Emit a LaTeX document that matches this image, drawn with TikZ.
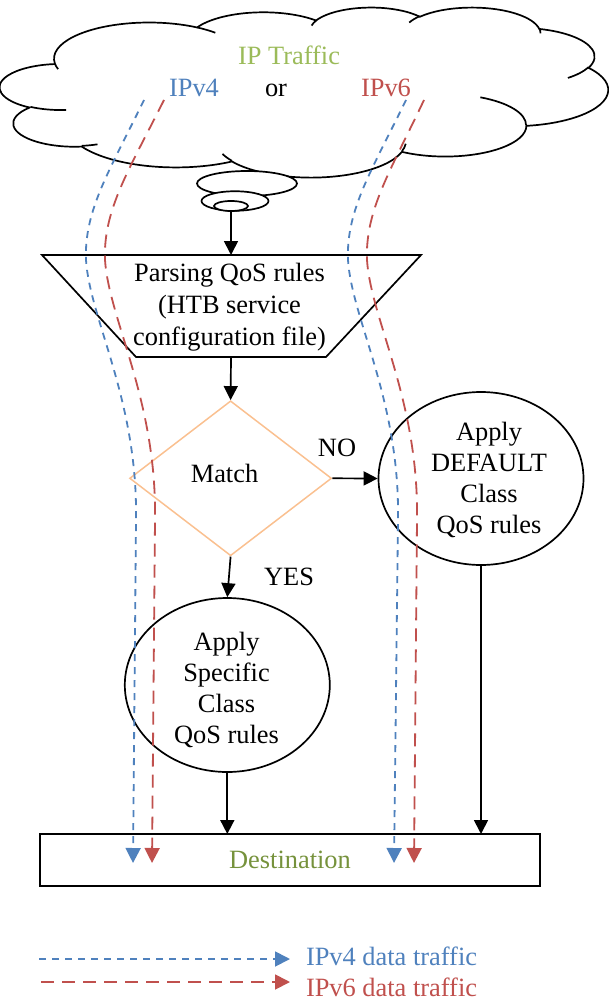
\documentclass[tikz,border=0pt]{standalone}
\usepackage{fontspec}
\setmainfont{Liberation Serif}
\usetikzlibrary{arrows.meta,shapes.geometric}
\definecolor{vfourblue}{HTML}{4F81BD}
\definecolor{vsixred}{HTML}{C0504D}
\definecolor{traffgreen}{HTML}{9BBB59}
\definecolor{destgreen}{HTML}{76923C}
\definecolor{decorange}{HTML}{FAC090}
\tikzset{
  % one lobe of the cloud outline: x radius, y radius, start and sweep angle (visual degrees)
  cloudarc/.style n args={4}{x radius=#1, y radius=#2,
    start angle={atan2(#1*sin(#3),#2*cos(#3))},
    delta angle={mod(atan2(#1*sin(#3+#4),#2*cos(#3+#4))-atan2(#1*sin(#3),#2*cos(#3))+720,360)}},
  cloudline/.style={line width=1.7pt, line join=round},
  txt/.style={font=\fontsize{26.4}{31}\selectfont, inner sep=0pt, outer sep=0pt},
  bubble/.style={ellipse, draw, fill=white, line width=1.7pt, inner sep=0pt},
  flow/.style={line width=1.7pt, -{Triangle[length=14pt,width=14pt]}},
  roundbox/.style={ellipse, draw, line width=1.7pt, inner sep=0pt, minimum width=205pt, minimum height=173pt},
  vfour/.style={vfourblue, line width=1.8pt, dash pattern=on 7pt off 6pt, -{Triangle[length=15pt,width=15pt]}},
  vsix/.style={vsixred, line width=1.8pt, dash pattern=on 13pt off 8pt, -{Triangle[length=15pt,width=15pt]}},
}
\begin{document}
\begin{tikzpicture}[x=1pt,y=-1pt]
\useasboundingbox (0,0) rectangle (608,1003);

% ---- cloud ----
\begin{scope}[shift={(0,7)}, x=1.4074pt, y=-0.3935pt]
  \draw[cloudline, fill=white] (39.00,143.70)
    arc[cloudarc={67.53}{91.90}{-190.4875}{123.7805}]
    arc[cloudarc={53.33}{72.67}{-144.1024}{89.9452}]
    arc[cloudarc={43.65}{59.45}{-145.8079}{99.7230}]
    arc[cloudarc={48.57}{65.95}{-130.9861}{117.2417}]
    arc[cloudarc={53.33}{72.73}{-78.7089}{109.0269}]
    arc[cloudarc={67.75}{92.20}{-46.2673}{130.2690}]
    arc[cloudarc={57.85}{78.67}{0.6250}{114.0333}]
    arc[cloudarc={67.52}{92.15}{22.4516}{115.1726}]
    arc[cloudarc={77.20}{105.43}{66.2426}{75.7110}]
    arc[cloudarc={43.60}{59.18}{-274.9421}{146.7356}]
    arc[cloudarc={43.45}{59.45}{-246.8285}{152.5189}]
    -- cycle;
  \draw[cloudline]
    (46.93,261.77) arc[cloudarc={43.45}{59.45}{86.742}{26.4295}]
    (69.28,348.99) arc[cloudarc={43.60}{59.18}{73.6105}{11.4475}]
    (164.78,390.90) arc[cloudarc={67.52}{92.15}{137.6242}{14.0811}]
    (288.27,347.51) arc[cloudarc={67.52}{92.15}{6.4533}{15.9984}]
    (341.29,229.54) arc[cloudarc={57.85}{78.67}{-70.2924}{70.9174}]
    (417.98,153.54) arc[cloudarc={53.33}{72.73}{30.3180}{27.7515}]
    (383.24,54.26) arc[cloudarc={48.57}{65.95}{-13.7443}{14.8589}]
    (290.78,39.52) arc[cloudarc={48.57}{65.95}{-149.1815}{18.1954}]
    (221.41,47.20) arc[cloudarc={43.65}{59.45}{-163.4943}{17.6864}]
    (140.00,51.92) arc[cloudarc={67.53}{91.90}{-66.7070}{12.3194}]
    (41.27,157.89) arc[cloudarc={67.53}{91.90}{157.6544}{11.8582}];
\end{scope}

\node[txt, anchor=base, text=traffgreen] (ipt) at (289,65) {IP Traffic};
\node[txt, anchor=base, text=vfourblue] (lvfour) at (194,97) {IPv4};
\node[txt, anchor=base] (lor) at (276,97) {or};
\node[txt, anchor=base, text=vsixred] (lvsix) at (386,97) {IPv6};

% thought-bubble tail
\node[bubble, minimum width=100pt, minimum height=25pt] (b1) at (247,183.5) {};
\node[bubble, minimum width=67pt, minimum height=19.5pt] (b2) at (235,201) {};
\node[bubble, minimum width=34pt, minimum height=10pt] (b3) at (231,206) {};

% ---- parsing step (inverted trapezium) ----
\coordinate (ptl) at (42,255);
\coordinate (ptr) at (421,255);
\coordinate (pbr) at (326,357);
\coordinate (pbl) at (136,357);
\coordinate (ptop) at (231,255);
\coordinate (pbot) at (231,357);
\draw[line width=1.7pt, line join=miter] (ptl) -- (ptr) -- (pbr) -- (pbl) -- cycle;
\node[txt, font=\fontsize{26.4}{31.8}\selectfont, align=center] (parse) at (229.5,307)
  {Parsing QoS rules\\(HTB service\\configuration file)};

% ---- decision ----
\node[diamond, draw=decorange, line width=1.5pt, inner sep=0pt,
      minimum width=202pt, minimum height=155pt] (match) at (230.6,478.3) {};
\node[txt, anchor=base] (matchtxt) at (224.5,482.7) {Match};

% ---- actions ----
\node[roundbox] (rcirc) at (481,478.5) {};
\node[txt, align=center] (rtxt) at (489,479.5) {Apply\\DEFAULT\\Class\\QoS rules};
\node[roundbox, minimum height=174pt] (lcirc) at (227.3,685) {};
\node[txt, align=center] (ltxt) at (226.5,689.5) {Apply\\Specific\\Class\\QoS rules};

% ---- destination ----
\node[draw, line width=1.7pt, minimum width=500pt, minimum height=52pt, inner sep=0pt,
      txt, text=destgreen] (dest) at (290,860) {Destination};

% ---- flow arrows ----
\draw[flow] (b3.south) -- (ptop);
\draw[flow] (pbot) -- (match.north);
\draw[flow] (match.east) -- (rcirc.west);
\draw[flow] (match.south) -- (lcirc.north);
\draw[flow] (lcirc.south) -- (lcirc.south |- dest.north);
\draw[flow] (rcirc.south) -- (rcirc.south |- dest.north);
\node[txt, anchor=base] (nolbl) at (337,456.7) {NO};
\node[txt, anchor=base] (yeslbl) at (289,585) {YES};

% ---- traffic paths ----
\coordinate (fourLs) at (144,100);
\coordinate (fourLe) at (133,863);
\coordinate (sixLs) at (164,100);
\coordinate (sixLe) at (152,863);
\coordinate (fourRs) at (406,100);
\coordinate (fourRe) at (394,863);
\coordinate (sixRs) at (424,100);
\coordinate (sixRe) at (414,863);
\draw[vfour] (fourLs) .. controls (110,170) and (84,210) .. (86,260)
  .. controls (90,320) and (138,400) .. (136,520) -- (fourLe);
\draw[vsix] (sixLs) .. controls (129,170) and (103,210) .. (105,260)
  .. controls (109,320) and (157,400) .. (155,520) -- (sixLe);
\draw[vfour] (fourRs) .. controls (372,170) and (346,210) .. (348,260)
  .. controls (352,320) and (400,400) .. (398,520) -- (fourRe);
\draw[vsix] (sixRs) .. controls (391,170) and (365,210) .. (367,260)
  .. controls (371,320) and (419,400) .. (417,520) -- (sixRe);

% ---- legend ----
\coordinate (lgfours) at (39,959);
\coordinate (lgfoure) at (290,959);
\coordinate (lgsixs) at (41,982);
\coordinate (lgsixe) at (290,982);
\draw[vfour] (lgfours) -- (lgfoure);
\draw[vsix] (lgsixs) -- (lgsixe);
\node[txt, anchor=base west, text=vfourblue] (lgfourtxt) at (306,965.7) {IPv4 data traffic};
\node[txt, anchor=base west, text=vsixred] (lgsixtxt) at (306,996) {IPv6 data traffic};
\end{tikzpicture}
\end{document}
